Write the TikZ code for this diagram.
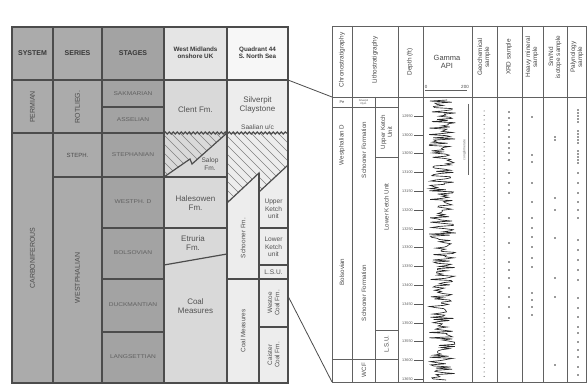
\documentclass[tikz,border=0pt]{standalone}
\usepackage{fontspec}
\setmainfont{Liberation Sans}
\usepackage{tikz}
\usetikzlibrary{decorations.pathmorphing}

\newcommand{\widecaps}[1]{\scalebox{1.2}[1]{#1}}

\begin{document}
\begin{tikzpicture}[
    x=1pt, y=-1pt,
    rule/.style = {draw=black!70, line width=1.2pt},
    fine/.style = {draw=black!62, line width=0.8pt},
    hatch/.style = {draw=black!50, line width=0.45pt},
    head/.style = {font=\bfseries\fontsize{7}{8}\selectfont, text=black!78},
    headtwo/.style = {font=\bfseries\fontsize{6.3}{7.4}\selectfont, align=center, text=black!78},
    era/.style = {font=\fontsize{7}{8}\selectfont, text=black!70, rotate=90},
    stage/.style = {font=\fontsize{5.5}{6}\selectfont, text=black!62},
    fm/.style = {font=\fontsize{8}{9.2}\selectfont, align=center, text=black!68},
    fmsmall/.style = {font=\fontsize{6.6}{7.4}\selectfont, align=center, text=black!68},
    fmrot/.style = {font=\fontsize{6.4}{7.2}\selectfont, align=center, text=black!68, rotate=90},
    colhead/.style = {font=\fontsize{6.4}{7}\selectfont, align=center, text=black!72, rotate=90},
    logtext/.style = {font=\fontsize{6.2}{7}\selectfont, align=center, text=black!70, rotate=90},
    depthlbl/.style = {font=\fontsize{3.8}{4}\selectfont, text=black!65, inner sep=0.5pt, anchor=east},
    sample/.style = {fill=black!80}
]

\useasboundingbox (0,0) rectangle (587,390);
\fill[white] (0,0) rectangle (587,390);

% Left chart ── column fills
\fill[gray!66] (12,27) rectangle (102,383);
\fill[gray!72] (102,27) rectangle (164,383);
\fill[gray!20] (164,27) rectangle (227,80);
\fill[gray!30] (164,80) rectangle (227,383);
\fill[gray!6]  (227,27) rectangle (288,80);
\fill[gray!14] (227,80) rectangle (288,383);

% Hatched gaps
\begin{scope}
    \clip (164,133) -- (227,133) -- (192,164) -- (190,159) -- (164,178) -- cycle;
    \foreach \i in {-70,-61,...,80} \draw[hatch] ({164+\i},128) -- ++(60,60);
\end{scope}
\begin{scope}
    \clip (227,133) -- (288,133) -- (288,165) -- (259,192) -- (259,173) -- (227,203) -- cycle;
    \foreach \i in {-80,-71,...,70} \draw[hatch] ({227+\i},128) -- ++(90,90);
\end{scope}

% Left chart ── rules
\draw[rule] (12,27) rectangle (288,383);
\foreach \x in {53,102,164,227} \draw[rule] (\x,27) -- (\x,383);
\draw[rule] (12,80) -- (288,80);
\draw[rule] (102,107) -- (164,107);
\draw[rule] (12,133) -- (164,133);
\draw[rule, decorate, decoration={snake, amplitude=1pt, segment length=4pt}] (164,133) -- (288,133);
\draw[rule] (53,177) -- (227,177);
\draw[rule] (102,228) -- (227,228);
\draw[rule] (102,279) -- (164,279);
\draw[rule] (102,332) -- (164,332);
\draw[rule] (164,177) -- (190,159) -- (192,164) -- (227,133);
\draw[rule] (164,265) -- (227,254);
\draw[rule] (227,203) -- (259,173) -- (259,192) -- (288,165);
\draw[rule] (259,173) -- (259,383);
\draw[rule] (259,228) -- (288,228);
\draw[rule] (259,265) -- (288,265);
\draw[rule] (227,279) -- (288,279);
\draw[rule] (259,327) -- (288,327);

% Left chart ── headings
\node[head]    (system) at (32.5,53)  {SYSTEM};
\node[head]    (series) at (77.5,53)  {SERIES};
\node[head]    (stages) at (133,53)   {STAGES};
\node[headtwo] (wmid)   at (195.5,53) {West Midlands\\onshore UK};
\node[headtwo] (quad)   at (257.5,53) {Quadrant 44\\S. North Sea};

% System and series
\node[era] (permian) at (32.5,107) {PERMIAN};
\node[era] (carb)    at (32.5,258) {CARBONIFEROUS};
\node[era] (rotl)    at (77.5,107) {ROTLIEG.};
\node[font=\fontsize{6}{7}\selectfont, text=black!70] (steph) at (77.5,155) {STEPH.};
\node[era] (westph)  at (77.5,278) {WESTPHALIAN};

% Stages
\node[stage] (sakm)  at (133,94)  {\widecaps{SAKMARIAN}};
\node[stage] (assel) at (133,120) {\widecaps{ASSELIAN}};
\node[stage] (steph2) at (133,155) {\widecaps{STEPHANIAN}};
\node[stage] (wd)    at (133,202) {\widecaps{WESTPH. D}};
\node[stage] (bols)  at (133,253) {\widecaps{BOLSOVIAN}};
\node[stage] (duck)  at (133,305) {\widecaps{DUCKMANTIAN}};
\node[stage] (lang)  at (133,357) {\widecaps{LANGSETTIAN}};

% West Midlands
\node[fm]      (clent) at (195.5,110) {Clent Fm.};
\node[fmsmall] (salop) at (210,164)   {Salop\\Fm.};
\node[fm]      (hales) at (195.5,203) {Halesowen\\Fm.};
\node[fm]      (etru)  at (193,243)   {Etruria\\Fm.};
\node[fm]      (coalw) at (195.5,306) {Coal\\Measures};

% Quadrant 44
\node[fm]      (silv)   at (257.5,105) {Silverpit\\Claystone};
\node[fmsmall] (saal)   at (257.5,127) {Saalian u/c};
\node[fmrot]   (schoon) at (243,238)   {Schooner Fm.};
\node[fmsmall] (uket)   at (273.5,209) {Upper\\Ketch\\unit};
\node[fmsmall] (lket)   at (273.5,247) {Lower\\Ketch\\unit};
\node[fmsmall] (lsu)    at (273.5,272) {L.S.U.};
\node[fmrot]   (coalq)  at (243,331)   {Coal Measures};
\node[fmrot]   (westoe) at (273.5,303) {Westoe\\Coal Fm.};
\node[fmrot]   (caist)  at (273.5,355) {Caister\\Coal Fm.};

% Right log ── rules
\draw[fine] (332,26) rectangle (586,382);
\foreach \x in {352,398,423,472,497,522,543,567} \draw[fine] (\x,26) -- (\x,382);
\draw[fine] (375,97) -- (375,382);
\draw[fine] (332,97) -- (586,97);
\draw[fine] (332,107) -- (398,107);
\draw[fine] (375,157) -- (398,157);
\draw[fine] (375,330) -- (398,330);
\draw[fine] (332,359) -- (398,359);
\draw[fine, line width=0.5pt] (425,90) -- (467,90);

% Right log ── headings
\node[colhead] (chrono)  at (342,60) {Chronostratigraphy};
\node[colhead] (litho)   at (375,60) {Lithostratigraphy};
\node[colhead] (depth)   at (410,62) {Depth (ft)};
\node[font=\fontsize{7.5}{8.5}\selectfont, align=center, text=black!72] (gamma) at (447,62) {Gamma\\API};
\node[font=\fontsize{4.5}{5}\selectfont, text=black!72, anchor=south, inner sep=0.8pt] (gmin) at (426,90) {0};
\node[font=\fontsize{4.5}{5}\selectfont, text=black!72, anchor=south, inner sep=0.8pt] (gmax) at (465,90) {200};
\node[colhead] (geochem) at (484,57) {Geochemical\\sample};
\node[colhead] (xrd)     at (509,57) {XRD sample};
\node[colhead] (heavy)   at (532,57) {Heavy mineral\\sample};
\node[colhead] (isotope) at (555,57) {Sm/Nd\\isotope sample};
\node[colhead] (paly)    at (577,57) {Palynology\\sample};

% Right log ── stratigraphy
\node[font=\fontsize{4}{4.5}\selectfont, text=black!70] (pe) at (342,102) {Pe};
\node[font=\fontsize{2.6}{2.9}\selectfont, align=center, text=black!70] (silvr) at (363.5,102) {Silverpit\\Clyst.};
\node[logtext] (wphd)   at (342,145) {Westphalian D};
\node[logtext] (bolsr)  at (342,272) {Bolsovian};
\node[logtext] (schr1)  at (364,150) {Schooner Formation};
\node[logtext] (schr2)  at (364,293) {Schooner Formation};
\node[logtext] (uketr)  at (386.5,132) {Upper Ketch\\Unit};
\node[logtext] (lketr)  at (386.5,207) {Lower Ketch Unit};
\node[logtext] (lsur)   at (386.5,344) {L.S.U.};
\node[logtext] (wcf)    at (364,370) {WCF};

% Depth scale
\foreach \i in {0,...,14} {
    \pgfmathsetmacro{\yy}{116+18.8*\i}
    \pgfmathtruncatemacro{\dd}{12950+50*\i}
    \draw[black!65, line width=0.4pt] (414,\yy) -- (423,\yy);
    \node[depthlbl] (d\i) at (413.5,\yy) {\dd};
}

% Gamma ray curve
\pgfmathsetseed{42}
\draw[black!85, line width=0.65pt] plot[variable=\t, domain=100:380, samples=260] ({456-27*rnd}, \t);
\draw[black!60, line width=0.7pt] (468,104) -- (468,175);
\node[font=\fontsize{3.4}{3.8}\selectfont, text=black!60, rotate=90] (cong) at (464.5,150) {conglomerate};

% Samples
\foreach \y in {111,115.5,...,377} \fill[sample] (484,\y) circle (0.5);
\foreach \y in {112,118,125,130,137,143,148,153,160,173,183,193,218,243,262,270,278,288,297,307,318}
    \fill[sample] (509,\y) circle (0.9);
\foreach \y in {117,155,162,183,202,218,228,237,247,258,267,293,300,307,315}
    \fill[sample] (532,\y) circle (0.9);
\foreach \y in {137,140,198,210,238,278,297,365}
    \fill[sample] (555,\y) circle (0.9);
\foreach \y in {110,113,116,119,122,131,134,137,140,143,151,154,157,160,163,173,183,193,202,210,218,240,250,260,270,280,298,308,317,327,333,342,350,357,367,375}
    \fill[sample] (578,\y) circle (0.9);

% Links between the two columns
\coordinate (lhead) at (288,80);
\coordinate (rhead) at (332,97);
\coordinate (lcut)  at (288,296);
\coordinate (rbase) at (332,382);
\draw[fine, draw=black!70] (lhead) -- (rhead);
\draw[fine, draw=black!70] (lcut) -- (rbase);

\end{tikzpicture}
\end{document}
